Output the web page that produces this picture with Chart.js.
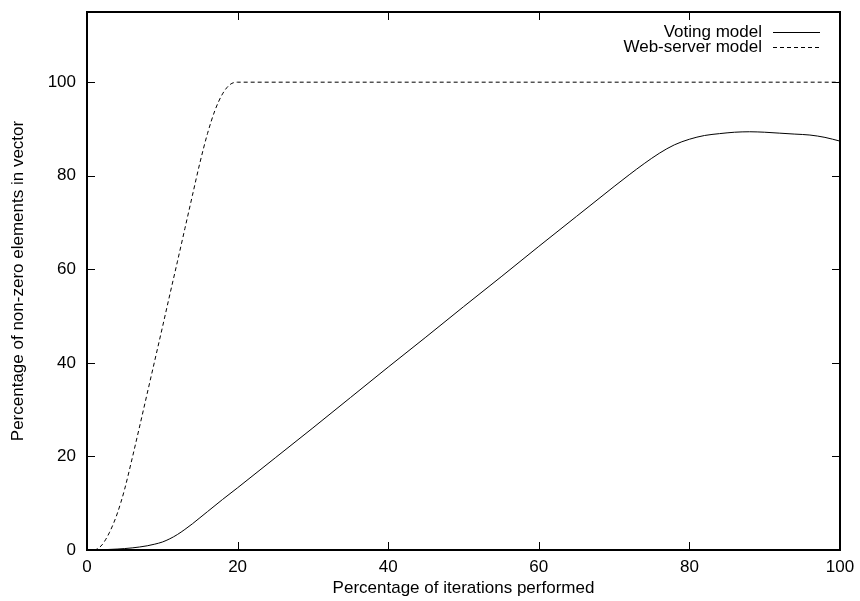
<!DOCTYPE html>
<html><head><meta charset="utf-8">
<script src="https://cdn.jsdelivr.net/npm/chart.js@4.4.1/dist/chart.umd.min.js"></script>
<style>html,body{margin:0;padding:0;background:#fff;} #wrap{width:860px;height:601px;}</style>
</head><body><div id="wrap"><canvas id="c"></canvas></div>
<script>
const seriesNames = ['Voting model', 'Web-server model'];
const votingX = [0, 2, 4, 6, 8, 9, 10, 11, 12, 13, 14, 15, 16, 18, 20, 25, 30, 35, 40, 45, 50, 55, 60, 65, 70, 72, 74, 76, 78, 80, 82, 84, 86, 88, 90, 92, 94, 96, 98, 100];
const votingY = [0, 0.05, 0.2, 0.45, 0.9, 1.25, 1.7, 2.4, 3.3, 4.4, 5.6, 6.9, 8.2, 10.8, 13.3, 19.7, 26.1, 32.6, 39.1, 45.5, 52.0, 58.4, 64.9, 71.3, 77.7, 80.2, 82.6, 84.8, 86.6, 87.8, 88.6, 89.0, 89.3, 89.4, 89.3, 89.1, 88.9, 88.7, 88.2, 87.4];
const webX = [0, 1, 1.5, 2, 2.5, 3, 3.5, 4, 4.5, 5, 6, 7, 8, 9, 10, 11, 12, 13, 14, 15, 16, 17, 18, 19, 20, 100];
const webY = [0, 0, 0.4, 1.1, 2.3, 3.8, 5.6, 7.7, 10.2, 13.0, 19.6, 26.5, 33.5, 40.5, 47.5, 54.6, 61.6, 68.7, 75.8, 82.8, 89.0, 94.0, 97.5, 99.5, 100, 100];
const xTicks = [0, 20, 40, 60, 80, 100];
const yTicks = [0, 20, 40, 60, 80, 100];
const xTitle = 'Percentage of iterations performed';
const yTitle = 'Percentage of non-zero elements in vector';

const FONT = "'Liberation Sans', Arial, Helvetica, sans-serif";
const FS = 17;
const toPts = (xs, ys) => xs.map((x, i) => ({x: x, y: ys[i]}));

const framePlugin = {
  id: 'frame',
  afterDatasetsDraw(chart) {
    const ctx = chart.ctx, a = chart.chartArea;
    const xs = chart.scales.x, ys = chart.scales.y;
    ctx.save();
    ctx.strokeStyle = '#000';
    ctx.lineWidth = 1;
    const tl = 8;
    ctx.beginPath();
    xTicks.forEach(v => {
      const p = Math.round(xs.getPixelForValue(v)) + 0.5;
      ctx.moveTo(p, a.bottom); ctx.lineTo(p, a.bottom - tl);
      ctx.moveTo(p, a.top); ctx.lineTo(p, a.top + tl);
    });
    yTicks.forEach(v => {
      const p = Math.round(ys.getPixelForValue(v)) + 0.5;
      ctx.moveTo(a.left, p); ctx.lineTo(a.left + tl, p);
      ctx.moveTo(a.right, p); ctx.lineTo(a.right - tl, p);
    });
    ctx.stroke();
    ctx.lineWidth = 2;
    ctx.strokeRect(a.left, a.top, a.right - a.left, a.bottom - a.top);
    // legend
    ctx.font = FS + 'px ' + FONT;
    ctx.fillStyle = '#000';
    ctx.textAlign = 'right';
    ctx.textBaseline = 'middle';
    const tx = 762, lx0 = 773, lx1 = 820;
    chart.data.datasets.forEach((ds, i) => {
      const y = 32 + i * 15;
      ctx.fillText(ds.label, tx, y);
      ctx.lineWidth = 1;
      ctx.setLineDash(ds.borderDash || []);
      ctx.beginPath();
      ctx.moveTo(lx0, Math.round(y) + 0.5); ctx.lineTo(lx1, Math.round(y) + 0.5);
      ctx.stroke();
      ctx.setLineDash([]);
    });
    ctx.restore();
  }
};

new Chart(document.getElementById('c'), {
  type: 'line',
  data: {
    datasets: [
      {label: seriesNames[0], data: toPts(votingX, votingY), borderColor: '#000', borderWidth: 1, pointRadius: 0, cubicInterpolationMode: 'monotone', fill: false},
      {label: seriesNames[1], data: toPts(webX, webY), borderColor: '#000', borderWidth: 1, borderDash: [4, 3], pointRadius: 0, cubicInterpolationMode: 'monotone', fill: false}
    ]
  },
  options: {
    responsive: true,
    maintainAspectRatio: false,
    animation: false,
    layout: {padding: {top: 12, right: 20, left: 0, bottom: 0}},
    plugins: {legend: {display: false}, tooltip: {enabled: false}},
    scales: {
      x: {
        type: 'linear', min: 0, max: 100,
        afterBuildTicks: s => { s.ticks = xTicks.map(v => ({value: v})); },
        afterFit: s => { s.height = 51; s.paddingLeft = 0; s.paddingRight = 0; },
        grid: {display: false, drawTicks: false},
        border: {display: false},
        ticks: {color: '#000', font: {family: FONT, size: FS}, padding: 7, maxRotation: 0},
        title: {display: true, text: xTitle, color: '#000', font: {family: FONT, size: FS}, padding: {top: 2, bottom: 2}}
      },
      y: {
        type: 'linear', min: 0, max: 115,
        afterBuildTicks: s => { s.ticks = yTicks.map(v => ({value: v})); },
        afterFit: s => { s.width = 87; s.paddingTop = 0; s.paddingBottom = 0; },
        grid: {display: false, drawTicks: false},
        border: {display: false},
        ticks: {color: '#000', font: {family: FONT, size: FS}, padding: 11},
        title: {display: true, text: yTitle, color: '#000', font: {family: FONT, size: FS}, padding: {top: 8, bottom: 2}}
      }
    }
  },
  plugins: [framePlugin]
});
</script>
</body></html>
